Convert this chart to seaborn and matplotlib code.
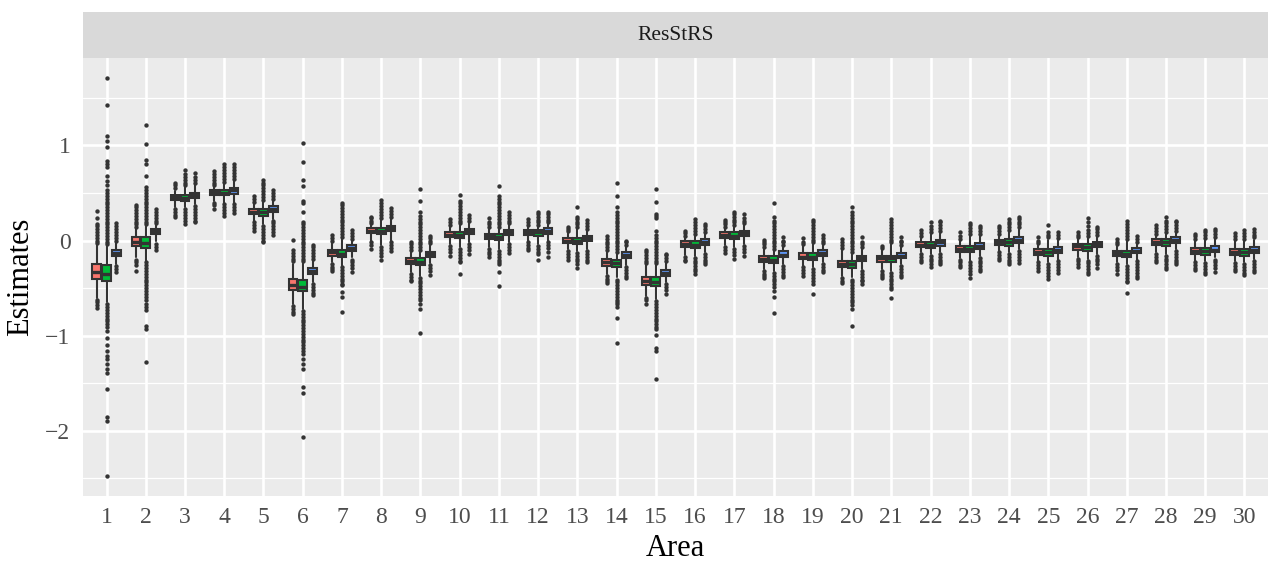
import matplotlib
matplotlib.use("Agg")
import matplotlib.pyplot as plt
from matplotlib.ticker import FixedLocator
import numpy as np
import pandas as pd
import seaborn as sns

# ---------------------------------------------------------------------------
# Box summaries per area for the three estimators (panel "ResStRS")
# ---------------------------------------------------------------------------
areas = list(range(1, 31))
panel_title = "ResStRS"
series_names = ["Est1", "Est2", "Est3"]
series_colors = ["#F8766D", "#00BA38", "#619CFF"]

# estimator 1 (red)
q1_r = [-0.40, -0.06, 0.428, 0.48, 0.274, -0.52, -0.158, 0.077, -0.246, 0.035,
        0.018, 0.06, -0.028, -0.263, -0.463, -0.07, 0.028, -0.228, -0.196, -0.281,
        -0.221, -0.07, -0.116, -0.046, -0.147, -0.095, -0.165, -0.046, -0.14, -0.147]
med_r = [-0.33, -0.01, 0.456, 0.509, 0.305, -0.463, -0.123, 0.105, -0.211, 0.063,
         0.046, 0.088, 0.0, -0.228, -0.421, -0.039, 0.056, -0.196, -0.168, -0.245,
         -0.182, -0.042, -0.085, -0.018, -0.118, -0.06, -0.133, -0.01, -0.11, -0.116]
q3_r = [-0.25, 0.035, 0.48, 0.533, 0.333, -0.404, -0.098, 0.13, -0.182, 0.088,
        0.07, 0.112, 0.028, -0.193, -0.379, -0.007, 0.088, -0.158, -0.133, -0.211,
        -0.158, -0.01, -0.053, 0.01, -0.088, -0.035, -0.105, 0.018, -0.081, -0.088]
lo_r = [-0.60, -0.175, 0.35, 0.42, 0.21, -0.667, -0.228, 0.0, -0.333, -0.035,
        -0.07, 0.0, -0.09, -0.351, -0.579, -0.15, -0.05, -0.30, -0.263, -0.368,
        -0.30, -0.123, -0.183, -0.105, -0.21, -0.175, -0.228, -0.123, -0.21, -0.218]
hi_r = [-0.05, 0.12, 0.526, 0.56, 0.39, -0.25, -0.02, 0.16, -0.12, 0.14,
        0.12, 0.14, 0.08, -0.12, -0.26, 0.03, 0.12, -0.09, -0.06, -0.10,
        -0.10, 0.03, 0.0, 0.05, -0.05, 0.02, -0.06, 0.05, 0.0, 0.0]
out_r = [
    [-0.62, -0.65, -0.68, -0.71, -0.03, 0.0, 0.03, 0.06, 0.09, 0.12, 0.15, 0.17, 0.24, 0.31],
    [0.14, 0.17, 0.20, 0.23, 0.26, 0.29, 0.32, 0.35, 0.37, -0.20, -0.23, -0.26, -0.32],
    [0.55, 0.58, 0.60, 0.33, 0.30, 0.27, 0.25],
    [0.58, 0.61, 0.64, 0.67, 0.70, 0.73, 0.40, 0.37, 0.33],
    [0.41, 0.44, 0.47, 0.19, 0.16, 0.13, 0.105],
    [-0.22, -0.19, -0.16, -0.13, -0.10, 0.01, -0.69, -0.72, -0.75, -0.77],
    [0.0, 0.03, 0.06, -0.25, -0.28, -0.30, -0.32],
    [0.18, 0.21, 0.24, 0.25, -0.02, -0.05, -0.09],
    [-0.10, -0.07, -0.04, -0.01, -0.35, -0.38, -0.41, -0.43],
    [0.16, 0.19, 0.23, -0.06, -0.09, -0.12, -0.16],
    [0.14, 0.17, 0.20, 0.24, -0.09, -0.12, -0.14, -0.175],
    [0.16, 0.19, 0.23, -0.02, -0.05, -0.08, -0.10],
    [0.10, 0.12, 0.14, -0.11, -0.14, -0.17, -0.20],
    [-0.10, -0.07, -0.04, -0.01, 0.02, 0.05, -0.37, -0.40, -0.42, -0.45],
    [-0.24, -0.21, -0.18, -0.15, -0.12, -0.10, -0.60, -0.63, -0.67],
    [0.05, 0.08, 0.105, -0.17, -0.20, -0.22],
    [0.14, 0.17, 0.20, 0.22, -0.07, -0.10, -0.13],
    [-0.07, -0.04, -0.01, 0.01, -0.32, -0.35, -0.37, -0.39],
    [-0.04, -0.01, 0.03, -0.28, -0.31, -0.34, -0.37],
    [-0.08, -0.05, -0.02, 0.02, -0.39, -0.42, -0.45],
    [-0.08, -0.06, -0.32, -0.35, -0.37, -0.39],
    [0.05, 0.08, 0.11, -0.14, -0.17, -0.20, -0.23],
    [0.02, 0.05, 0.09, -0.20, -0.23, -0.26, -0.28],
    [0.07, 0.10, 0.13, 0.15, -0.12, -0.15, -0.18, -0.20],
    [-0.03, 0.0, 0.035, -0.23, -0.26, -0.29, -0.32],
    [0.04, 0.06, 0.09, -0.19, -0.22, -0.25, -0.28],
    [-0.04, -0.01, 0.02, -0.25, -0.28, -0.31, -0.35],
    [0.07, 0.10, 0.13, 0.16, -0.14, -0.17, -0.20, -0.23],
    [0.02, 0.05, 0.07, -0.23, -0.26, -0.29, -0.31],
    [0.02, 0.05, 0.08, -0.24, -0.27, -0.30, -0.32],
]

# estimator 2 (green)
q1_g = [-0.43, -0.08, 0.421, 0.474, 0.263, -0.533, -0.175, 0.07, -0.256, 0.025,
        0.007, 0.053, -0.035, -0.281, -0.481, -0.077, 0.018, -0.235, -0.204, -0.288,
        -0.228, -0.077, -0.123, -0.053, -0.158, -0.105, -0.175, -0.053, -0.147, -0.158]
med_g = [-0.35, -0.025, 0.449, 0.502, 0.298, -0.49, -0.14, 0.098, -0.221, 0.056,
         0.042, 0.088, -0.007, -0.239, -0.439, -0.042, 0.053, -0.2, -0.168, -0.25,
         -0.186, -0.046, -0.088, -0.018, -0.12, -0.07, -0.14, -0.018, -0.11, -0.12]
q3_g = [-0.26, 0.035, 0.48, 0.533, 0.333, -0.41, -0.098, 0.13, -0.182, 0.088,
        0.07, 0.112, 0.028, -0.2, -0.386, -0.007, 0.088, -0.165, -0.133, -0.211,
        -0.158, -0.01, -0.053, 0.018, -0.088, -0.035, -0.105, 0.018, -0.081, -0.088]
lo_g = [-0.65, -0.21, 0.35, 0.40, 0.175, -0.72, -0.263, -0.05, -0.368, -0.07,
        -0.088, -0.035, -0.105, -0.386, -0.614, -0.16, -0.07, -0.316, -0.281, -0.386,
        -0.316, -0.14, -0.21, -0.123, -0.228, -0.193, -0.246, -0.14, -0.218, -0.228]
hi_g = [-0.06, 0.15, 0.56, 0.60, 0.41, -0.24, 0.02, 0.22, -0.12, 0.16,
        0.12, 0.14, 0.12, -0.14, -0.26, 0.05, 0.14, -0.11, -0.04, -0.14,
        -0.04, 0.07, 0.05, 0.09, 0.01, 0.03, 0.0, 0.07, 0.01, 0.0]
out_g = [
    [-0.67, -0.70, -0.73, -0.76, -0.79, -0.82, -0.85, -0.88, -0.91,
     -0.95, -1.02, -1.10, -1.16, -1.21, -1.24, -1.30, -1.35, -1.39, -1.56, -1.85, -1.90, -2.47,
     -0.04, -0.01, 0.02, 0.05, 0.08, 0.11, 0.14, 0.17, 0.20, 0.23, 0.26, 0.29, 0.32, 0.35,
     0.38, 0.41, 0.44, 0.47, 0.50, 0.53, 0.58, 0.63, 0.68, 0.77, 0.81, 0.84, 0.98, 1.05,
     1.10, 1.42, 1.71],
    [0.17, 0.20, 0.23, 0.26, 0.29, 0.32, 0.35, 0.38, 0.41, 0.44, 0.47, 0.50, 0.53, 0.56,
     0.68, 0.80, 0.85, 1.01, 1.21,
     -0.23, -0.26, -0.29, -0.32, -0.35, -0.38, -0.41, -0.44, -0.47, -0.50, -0.53, -0.56,
     -0.59, -0.62, -0.67, -0.70, -0.73, -0.90, -0.93, -1.28],
    [0.58, 0.61, 0.64, 0.67, 0.70, 0.74, 0.33, 0.30, 0.27, 0.24, 0.21, 0.17],
    [0.62, 0.65, 0.68, 0.71, 0.74, 0.77, 0.80, 0.38, 0.35, 0.32, 0.29, 0.26],
    [0.43, 0.46, 0.49, 0.52, 0.55, 0.58, 0.61, 0.64,
     0.15, 0.12, 0.09, 0.06, 0.03, 0.0, -0.02],
    [-0.22, -0.19, -0.16, -0.13, -0.10, -0.07, -0.04, -0.01, 0.02, 0.05, 0.08, 0.11,
     0.14, 0.17, 0.20, 0.30, 0.40, 0.42, 0.57, 0.64, 0.83, 1.03,
     -0.74, -0.77, -0.80, -0.83, -0.86, -0.89, -0.92, -0.95, -0.98, -1.01, -1.04, -1.07,
     -1.10, -1.13, -1.16, -1.19, -1.25, -1.30, -1.35, -1.54, -1.60, -2.06],
    [0.04, 0.07, 0.10, 0.13, 0.16, 0.19, 0.22, 0.25, 0.28, 0.31, 0.34, 0.37, 0.39,
     -0.28, -0.31, -0.34, -0.37, -0.40, -0.43, -0.46, -0.47, -0.54, -0.59, -0.75],
    [0.24, 0.27, 0.30, 0.33, 0.36, 0.39, 0.43, -0.07, -0.10, -0.13, -0.16, -0.20],
    [-0.10, -0.07, -0.04, -0.01, 0.02, 0.05, 0.08, 0.11, 0.14, 0.17, 0.20, 0.23, 0.26,
     0.30, 0.42, 0.54,
     -0.39, -0.42, -0.45, -0.48, -0.51, -0.54, -0.57, -0.60, -0.63, -0.67, -0.72, -0.97],
    [0.18, 0.21, 0.24, 0.27, 0.30, 0.33, 0.36, 0.39, 0.42, 0.48,
     -0.09, -0.12, -0.15, -0.18, -0.21, -0.23, -0.35],
    [0.14, 0.17, 0.20, 0.23, 0.26, 0.29, 0.32, 0.35, 0.38, 0.41, 0.44, 0.47, 0.57,
     -0.11, -0.14, -0.17, -0.20, -0.23, -0.25, -0.33, -0.48],
    [0.16, 0.19, 0.22, 0.25, 0.28, 0.30, -0.06, -0.09, -0.12, -0.14, -0.20],
    [0.14, 0.17, 0.20, 0.23, 0.25, 0.35, -0.13, -0.16, -0.19, -0.22, -0.25, -0.29],
    [-0.12, -0.09, -0.06, -0.03, 0.0, 0.03, 0.06, 0.09, 0.12, 0.15, 0.18, 0.21, 0.24,
     0.27, 0.30, 0.35, 0.47, 0.61,
     -0.41, -0.44, -0.47, -0.50, -0.53, -0.56, -0.59, -0.62, -0.65, -0.67, -0.70,
     -0.81, -1.08],
    [-0.24, -0.21, -0.18, -0.15, -0.12, -0.09, -0.06, -0.03, 0.0, 0.03, 0.06, 0.10,
     0.24, 0.26, 0.28, 0.41, 0.54,
     -0.64, -0.67, -0.70, -0.73, -0.76, -0.79, -0.82, -0.85, -0.88, -0.91, -0.93,
     -0.99, -1.13, -1.16, -1.45],
    [0.07, 0.10, 0.13, 0.16, 0.19, 0.23, -0.18, -0.21, -0.24, -0.27, -0.30, -0.32, -0.35],
    [0.16, 0.19, 0.22, 0.25, 0.28, 0.30, -0.09, -0.12, -0.15, -0.19],
    [-0.09, -0.06, -0.03, 0.0, 0.03, 0.06, 0.09, 0.12, 0.15, 0.18, 0.21, 0.25, 0.39,
     -0.34, -0.37, -0.40, -0.43, -0.46, -0.49, -0.53, -0.59, -0.76],
    [-0.02, 0.01, 0.04, 0.07, 0.10, 0.13, 0.16, 0.19, 0.22,
     -0.30, -0.33, -0.36, -0.39, -0.42, -0.46, -0.56],
    [-0.12, -0.09, -0.06, -0.03, 0.0, 0.03, 0.06, 0.09, 0.12, 0.15, 0.18, 0.21, 0.24,
     0.27, 0.30, 0.35,
     -0.41, -0.44, -0.47, -0.50, -0.53, -0.56, -0.59, -0.62, -0.65, -0.68, -0.72, -0.90],
    [-0.02, 0.01, 0.04, 0.07, 0.10, 0.13, 0.16, 0.19, 0.23,
     -0.34, -0.37, -0.40, -0.43, -0.46, -0.49, -0.51, -0.60],
    [0.09, 0.12, 0.15, 0.19, -0.16, -0.19, -0.22, -0.25, -0.28],
    [0.07, 0.10, 0.13, 0.16, 0.18, -0.23, -0.26, -0.29, -0.32, -0.35, -0.39],
    [0.11, 0.14, 0.17, 0.20, 0.23, -0.14, -0.17, -0.20, -0.23, -0.25],
    [0.035, 0.06, 0.09, 0.165, -0.25, -0.28, -0.31, -0.34, -0.37, -0.40],
    [0.05, 0.08, 0.11, 0.15, 0.19, 0.235, -0.21, -0.24, -0.27, -0.30, -0.33, -0.35],
    [0.02, 0.05, 0.08, 0.11, 0.14, 0.17, 0.21,
     -0.27, -0.30, -0.33, -0.36, -0.39, -0.42, -0.44, -0.55],
    [0.09, 0.12, 0.15, 0.18, 0.21, 0.25, -0.16, -0.19, -0.22, -0.25, -0.28, -0.30],
    [0.03, 0.06, 0.09, 0.11, -0.24, -0.27, -0.30, -0.33, -0.35],
    [0.02, 0.05, 0.08, 0.11, -0.25, -0.28, -0.31, -0.34, -0.36],
]

# estimator 3 (blue)
q1_b = [-0.165, 0.07, 0.449, 0.491, 0.298, -0.351, -0.105, 0.098, -0.168, 0.07,
        0.063, 0.07, -0.007, -0.182, -0.368, -0.042, 0.046, -0.175, -0.165, -0.218,
        -0.182, -0.053, -0.088, -0.028, -0.13, -0.07, -0.133, -0.025, -0.123, -0.133]
med_b = [-0.13, 0.098, 0.477, 0.53, 0.333, -0.323, -0.077, 0.13, -0.14, 0.098,
         0.088, 0.098, 0.025, -0.151, -0.337, -0.01, 0.077, -0.147, -0.133, -0.182,
         -0.158, -0.018, -0.06, 0.007, -0.098, -0.035, -0.105, 0.01, -0.095, -0.095]
q3_b = [-0.095, 0.123, 0.505, 0.554, 0.361, -0.288, -0.046, 0.158, -0.116, 0.123,
        0.112, 0.13, 0.053, -0.123, -0.309, 0.018, 0.105, -0.112, -0.098, -0.158,
        -0.13, 0.01, -0.025, 0.035, -0.063, -0.01, -0.077, 0.042, -0.06, -0.063]
lo_b = [-0.25, 0.0, 0.386, 0.40, 0.228, -0.44, -0.175, 0.0, -0.24, -0.02,
        -0.02, 0.0, -0.088, -0.26, -0.44, -0.123, -0.035, -0.25, -0.228, -0.30,
        -0.246, -0.123, -0.158, -0.088, -0.203, -0.14, -0.203, -0.088, -0.175, -0.193]
hi_b = [-0.02, 0.16, 0.59, 0.63, 0.42, -0.21, 0.0, 0.23, -0.05, 0.19,
        0.16, 0.17, 0.10, -0.07, -0.23, 0.07, 0.16, -0.07, -0.05, -0.09,
        -0.07, 0.08, 0.05, 0.12, 0.01, 0.04, -0.03, 0.08, 0.02, 0.01]
out_b = [
    [0.0, 0.03, 0.06, 0.09, 0.12, 0.15, 0.18, -0.27, -0.30, -0.33],
    [0.18, 0.21, 0.24, 0.27, 0.30, 0.33, -0.04, -0.07, -0.10],
    [0.61, 0.64, 0.67, 0.71, 0.36, 0.33, 0.30, 0.27, 0.24, 0.21, 0.19],
    [0.65, 0.68, 0.71, 0.74, 0.77, 0.80, 0.38, 0.35, 0.32, 0.29],
    [0.44, 0.47, 0.50, 0.53, 0.21, 0.18, 0.15, 0.12, 0.09, 0.06],
    [-0.19, -0.16, -0.13, -0.10, -0.07, -0.05, -0.46, -0.49, -0.52, -0.55, -0.57],
    [0.02, 0.05, 0.08, 0.11, -0.20, -0.23, -0.26, -0.29, -0.33],
    [0.25, 0.28, 0.31, 0.34, -0.02, -0.05, -0.08, -0.11],
    [-0.03, 0.0, 0.03, 0.05, -0.26, -0.29, -0.32, -0.36],
    [0.21, 0.24, 0.27, -0.04, -0.07, -0.10, -0.14],
    [0.18, 0.21, 0.24, 0.27, 0.30, -0.04, -0.07, -0.10, -0.13],
    [0.19, 0.22, 0.25, 0.28, 0.30, -0.02, -0.05, -0.08, -0.12, -0.175],
    [0.12, 0.15, 0.18, 0.22, -0.11, -0.14, -0.17, -0.20, -0.23],
    [-0.05, -0.02, 0.0, -0.28, -0.31, -0.34, -0.37, -0.39],
    [-0.21, -0.18, -0.15, -0.14, -0.46, -0.49, -0.52, -0.56],
    [0.09, 0.12, 0.15, 0.175, -0.14, -0.17, -0.20, -0.23, -0.25],
    [0.18, 0.21, 0.24, 0.28, -0.06, -0.09, -0.12, -0.16],
    [-0.05, -0.02, 0.0, 0.035, -0.27, -0.30, -0.33, -0.36, -0.38],
    [-0.03, 0.0, 0.03, 0.06, -0.25, -0.28, -0.31, -0.33],
    [-0.07, -0.04, -0.01, 0.035, -0.32, -0.35, -0.38, -0.41, -0.43, -0.46],
    [-0.05, -0.02, 0.0, 0.035, -0.27, -0.30, -0.33, -0.36, -0.38],
    [0.10, 0.13, 0.16, 0.19, 0.21, -0.14, -0.17, -0.20, -0.23, -0.25],
    [0.07, 0.10, 0.13, 0.15, -0.18, -0.21, -0.24, -0.27, -0.30, -0.32],
    [0.14, 0.17, 0.20, 0.23, 0.25, -0.11, -0.14, -0.17, -0.20, -0.235],
    [0.03, 0.06, 0.09, -0.22, -0.25, -0.28, -0.31, -0.34],
    [0.06, 0.09, 0.12, 0.14, -0.16, -0.19, -0.22, -0.25, -0.29],
    [-0.01, 0.02, 0.05, -0.22, -0.25, -0.28, -0.31, -0.34, -0.37, -0.39],
    [0.10, 0.13, 0.16, 0.19, 0.21, -0.11, -0.14, -0.17, -0.20, -0.23, -0.25],
    [0.04, 0.07, 0.10, 0.12, -0.20, -0.23, -0.26, -0.29, -0.33],
    [0.035, 0.06, 0.09, 0.12, -0.22, -0.25, -0.28, -0.31, -0.33],
]

y_ticks = [-2, -1, 0, 1]
x_label = "Area"
y_label = "Estimates"

# ---------------------------------------------------------------------------
# Theme (ggplot-like grey panel)
# ---------------------------------------------------------------------------
sns.set_theme(style="darkgrid", rc={
    "axes.facecolor": "#EBEBEB",
    "grid.color": "white",
    "axes.edgecolor": "#EBEBEB",
})
plt.rcParams["font.family"] = ["Liberation Serif", "DejaVu Serif"]
plt.rcParams["axes.unicode_minus"] = True

DARK = "#333333"

fig = plt.figure(figsize=(12.71, 5.63), dpi=100)
fig.patch.set_facecolor("white")

W, H = 1271.0, 563.0
px_left, px_right, px_top, px_bottom = 83, 1268, 58, 496
strip_top = 12

ax = fig.add_axes([px_left / W, 1 - px_bottom / H,
                   (px_right - px_left) / W, (px_bottom - px_top) / H])
strip = fig.add_axes([px_left / W, 1 - px_top / H,
                      (px_right - px_left) / W, (px_top - strip_top) / H])

# ---------------------------------------------------------------------------
# Boxes
# ---------------------------------------------------------------------------
series = [
    (q1_r, med_r, q3_r, lo_r, hi_r, out_r),
    (q1_g, med_g, q3_g, lo_g, hi_g, out_g),
    (q1_b, med_b, q3_b, lo_b, hi_b, out_b),
]
offsets = [-0.25, 0.0, 0.25]
box_w = 0.225

outlier_rows = []
for (q1, med, q3, lo, hi, outs), name, color, off in zip(series, series_names,
                                                       series_colors, offsets):
    stats = []
    for i in range(len(areas)):
        stats.append({"med": med[i], "q1": q1[i], "q3": q3[i],
                      "whislo": lo[i], "whishi": hi[i], "fliers": []})
        for v in outs[i]:
            outlier_rows.append({"area": areas[i], "series": name,
                                 "x": areas[i] + off, "value": v})
    pos = [a + off for a in areas]
    ax.bxp(stats, positions=pos, widths=box_w, patch_artist=True,
           showfliers=False, showcaps=False, manage_ticks=False,
           boxprops=dict(facecolor=color, edgecolor=DARK, linewidth=1.5),
           whiskerprops=dict(color=DARK, linewidth=1.5),
           medianprops=dict(color=DARK, linewidth=2.4, solid_capstyle="butt"),
           zorder=3)

outliers = pd.DataFrame(outlier_rows)
sns.scatterplot(data=outliers, x="x", y="value", ax=ax, color=DARK, s=10,
                linewidth=0, legend=False, zorder=4)

# ---------------------------------------------------------------------------
# Axes styling
# ---------------------------------------------------------------------------
ax.set_xlim(0.4, 30.6)
ax.set_ylim(-2.685, 1.919)
ax.xaxis.set_major_locator(FixedLocator(areas))
ax.set_xticklabels([str(a) for a in areas])
ax.yaxis.set_major_locator(FixedLocator(y_ticks))
ax.yaxis.set_minor_locator(FixedLocator([-2.5, -1.5, -0.5, 0.5, 1.5]))
ax.set_yticklabels([str(t).replace("-", "\u2212") for t in y_ticks])
ax.grid(which="major", color="white", linewidth=1.9)
ax.grid(which="minor", axis="y", color="white", linewidth=0.9)
ax.grid(which="minor", axis="x", visible=False)
ax.set_axisbelow(True)
for sp in ax.spines.values():
    sp.set_visible(False)

ax.tick_params(axis="both", which="major", length=5, width=1.4, color=DARK,
               labelsize=17, labelcolor="#4D4D4D", direction="out")
ax.tick_params(axis="y", which="major", pad=4)
ax.tick_params(axis="x", which="major", pad=3)
ax.tick_params(axis="both", which="minor", length=0)
ax.set_xlabel(x_label, fontsize=22, color="black", labelpad=4)
ax.set_ylabel(y_label, fontsize=22, color="black", labelpad=7)

strip.set_facecolor("#D9D9D9")
strip.set_xticks([])
strip.set_yticks([])
strip.grid(False)
for sp in strip.spines.values():
    sp.set_visible(False)
strip.text(0.5, 0.5, panel_title, transform=strip.transAxes, ha="center",
           va="center", fontsize=15.5, color="#1A1A1A")

fig.savefig("out.png", dpi=100)
